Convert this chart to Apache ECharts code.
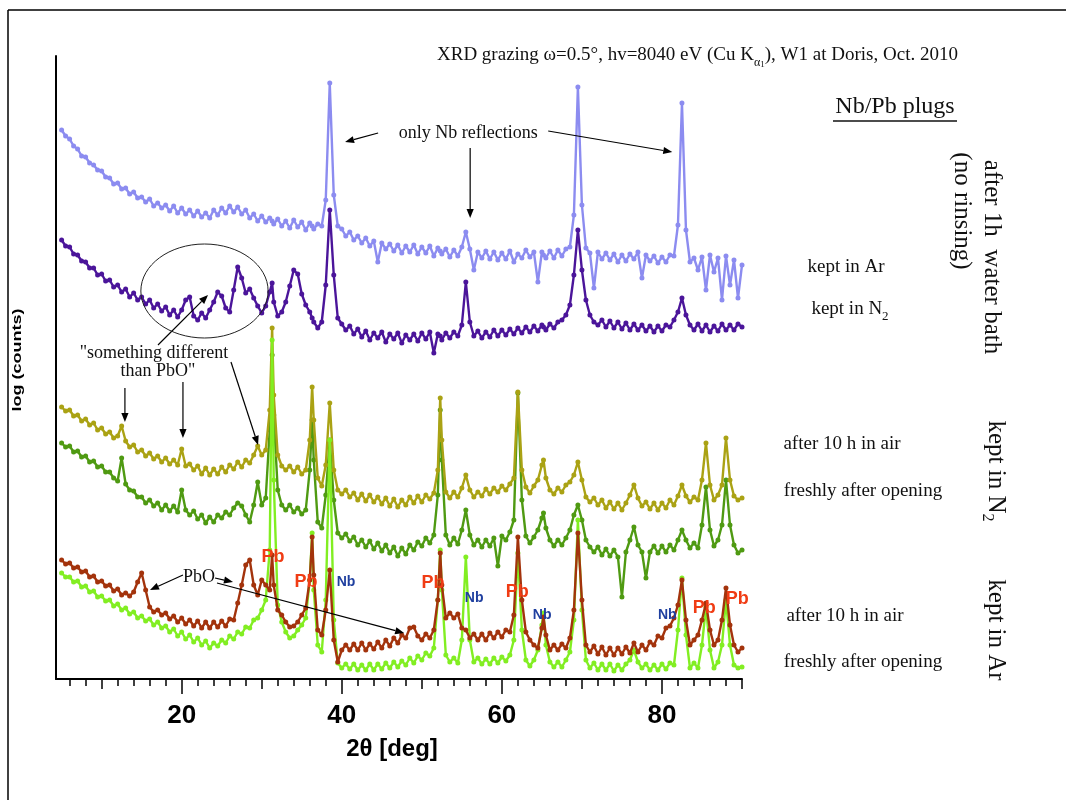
<!DOCTYPE html>
<html><head><meta charset="utf-8">
<script src="https://cdn.jsdelivr.net/npm/echarts@6/dist/echarts.min.js"></script>
<style>html,body{margin:0;padding:0;background:#fff}#c{width:1074px;height:810px}</style>
</head><body><div id="c"></div><script>
// 2-theta sampling grid (deg)
const theta = [
 5,5.5,6,6.5,7,7.5,8,8.5,9,9.5,
 10,10.5,11,11.5,12,12.5,13,13.5,14,14.5,
 15,15.5,16,16.5,17,17.5,18,18.5,19,19.5,
 20,20.5,21,21.5,22,22.5,23,23.5,24,24.5,
 25,25.5,26,26.5,27,27.5,28,28.5,29,29.5,
 30,30.5,31,31.5,32,32.5,33,33.5,34,34.5,
 35,35.5,36,36.5,37,37.5,38,38.5,39,39.5,
 40,40.5,41,41.5,42,42.5,43,43.5,44,44.5,
 45,45.5,46,46.5,47,47.5,48,48.5,49,49.5,
 50,50.5,51,51.5,52,52.5,53,53.5,54,54.5,
 55,55.5,56,56.5,57,57.5,58,58.5,59,59.5,
 60,60.5,61,61.5,62,62.5,63,63.5,64,64.5,
 65,65.5,66,66.5,67,67.5,68,68.5,69,69.5,
 70,70.5,71,71.5,72,72.5,73,73.5,74,74.5,
 75,75.5,76,76.5,77,77.5,78,78.5,79,79.5,
 80,80.5,81,81.5,82,82.5,83,83.5,84,84.5,
 85,85.5,86,86.5,87,87.5,88,88.5,89,89.5,
 90];
// extra points at Pb reflection maxima
const thetaExtra = [31.3, 36.3, 52.3, 65.2];

// log(counts), offset curves (arbitrary units)
const waterAr = [
 549,543,540,533,530,523,522,516,514,509,
 508,502,501,495,496,490,491,485,487,481,
 482,477,480,473,476,471,474,468,473,466,
 471,465,469,463,468,462,466,461,469,464,
 471,466,473,467,472,465,469,461,465,458,
 463,457,461,455,460,453,458,451,459,452,
 457,449,456,450,455,453,479,596,484,453,
 450,443,447,439,443,436,441,433,438,417,
 436,430,435,428,434,426,433,427,434,425,
 432,426,433,423,431,425,430,422,429,423,
 432,447,430,409,427,421,428,420,427,419,
 426,420,428,417,425,421,429,422,427,397,
 427,421,428,421,429,423,430,432,464,592,
 474,431,426,391,427,420,426,419,425,417,
 424,418,425,420,427,401,424,418,423,416,
 422,417,424,423,454,576,449,417,421,409,
 422,389,424,407,421,379,423,394,419,381,
 414];
const waterArExtra = [458,453,428,424];

const waterN2 = [
 439,433,432,425,424,418,417,411,411,404,
 405,398,399,392,394,387,390,382,386,379,
 382,375,379,371,375,368,372,364,369,362,
 369,379,382,363,359,366,361,369,377,387,
 383,371,367,389,412,401,386,390,381,373,
 366,373,387,377,363,367,377,393,409,405,
 385,374,367,357,351,357,394,469,404,361,
 355,349,353,345,350,342,348,339,346,341,
 347,337,345,340,346,336,344,339,345,338,
 346,340,347,326,345,339,346,341,347,343,
 354,397,357,343,348,341,347,342,349,343,
 349,344,350,345,351,346,352,347,353,348,
 354,349,355,351,357,359,364,374,404,449,
 409,379,364,357,354,359,352,358,351,357,
 350,356,349,355,349,354,348,353,347,353,
 348,354,352,359,367,381,364,354,349,355,
 348,354,347,353,348,355,349,354,349,355,
 352];
const waterN2Extra = [396,361,343,352];

const n2Air = [
 272,268,269,263,264,258,260,254,256,249,
 251,245,247,241,243,253,238,232,234,227,
 229,223,226,220,223,217,221,215,219,214,
 230,213,215,209,213,205,211,204,210,205,
 212,207,214,210,217,212,219,216,224,233,
 224,229,269,284,224,213,209,213,207,212,
 205,209,239,259,201,193,214,276,209,189,
 185,189,182,186,179,185,178,184,177,182,
 175,181,173,180,172,179,174,182,176,183,
 177,184,180,186,209,239,187,181,187,182,
 191,204,189,182,187,183,190,185,191,187,
 193,189,195,201,287,209,192,186,193,199,
 214,201,189,185,191,187,194,197,204,217,
 199,182,177,181,174,179,171,177,170,176,
 169,176,184,194,181,173,177,170,176,169,
 176,171,179,174,183,194,183,177,182,179,
 199,236,194,179,184,194,241,199,183,179,
 181];
const n2AirExtra = [351,292,281,219];

const n2Fresh = [
 236,232,233,227,228,222,223,217,218,212,
 213,207,207,201,198,221,195,189,188,182,
 182,176,179,173,176,169,174,168,173,167,
 189,169,164,168,160,164,156,162,157,164,
 161,167,164,171,176,173,164,157,174,197,
 174,181,249,264,189,174,169,174,167,171,
 165,169,209,219,157,151,184,239,179,146,
 141,145,138,142,134,139,132,138,130,136,
 128,134,126,132,123,131,125,134,129,137,
 133,141,136,144,184,219,144,134,141,135,
 149,169,144,134,139,132,139,133,141,113,
 143,139,147,159,286,179,143,136,142,149,
 161,151,139,133,139,134,141,149,164,174,
 159,139,132,127,132,124,130,123,129,122,
 82,127,139,152,134,127,101,127,133,126,
 133,127,134,129,139,149,139,131,136,131,
 154,192,149,133,139,154,199,154,134,126,
 129];
const n2FreshExtra = [324,259,269,166];

const arAir = [
 119,115,116,111,112,107,108,102,103,97,
 98,93,94,88,90,84,86,83,87,97,
 106,89,72,67,69,64,66,60,63,57,
 61,55,59,53,58,51,57,51,57,52,
 58,53,60,59,76,94,114,119,94,84,
 99,94,89,94,69,64,57,52,53,57,
 64,71,99,104,49,44,69,109,39,17,
 29,34,29,35,29,36,29,35,30,37,
 31,39,33,41,36,44,41,51,52,43,
 39,45,41,49,79,94,61,66,61,65,
 51,49,41,45,39,45,39,46,41,47,
 42,49,47,64,142,79,47,39,34,31,
 51,44,29,34,29,35,31,41,69,146,
 79,34,27,33,25,32,24,31,24,31,
 25,32,26,36,27,34,29,37,34,43,
 41,51,53,61,74,99,59,34,39,44,
 59,76,49,34,39,59,91,54,34,27,
 31];
const arAirExtra = [124,142,126,62];

const arFresh = [
 106,102,102,97,98,92,93,87,88,82,
 83,78,79,73,75,69,71,65,67,61,
 63,58,60,54,57,51,53,47,50,43,
 47,40,44,37,41,34,38,31,36,33,
 39,36,43,40,47,45,52,51,59,61,
 69,79,129,199,74,57,47,41,43,49,
 54,61,99,89,34,27,79,239,59,16,
 11,15,10,15,9,14,9,15,9,15,
 10,16,11,17,12,18,14,21,16,23,
 19,26,23,31,79,89,24,17,21,16,
 39,122,39,17,21,15,20,15,21,16,
 22,18,24,39,126,49,19,13,19,29,
 54,34,17,12,17,12,19,27,59,159,
 69,19,11,16,9,15,9,15,8,14,
 9,15,19,29,17,11,15,9,14,9,
 15,10,16,14,49,101,44,11,16,11,
 34,72,29,11,17,34,79,34,14,11,
 12];
const arFreshExtra = [339,146,129,66];

// axis ticks and labels
const minorTicks = [6,8,10,12,14,16,18,20,22,24,26,28,30,32,34,36,38,40,42,44,46,48,50,52,54,56,58,60,62,64,66,68,70,72,74,76,78,80,82,84,86,88,90];
const midTicks = [10,30,50,70,90];
const majorTicks = [20,40,60,80];

// annotation anchors in data units [2theta, log counts]
const arrowsDeg = [
 [[17.04,334],[23.29,384]],
 [[12.91,291],[12.91,257]],
 [[20.16,297],[20.16,241]],
 [[26.16,317],[29.54,234]],
 [[44.54,546],[40.41,537]],
 [[56.04,531],[56.04,461]],
 [[65.79,548],[81.29,527]],
 [[20.16,104],[16.04,89]],
 [[24.16,101],[26.41,97]],
 [[24.41,96],[47.79,46]]
];
const ellipseBox = [[14.9,341],[30.8,435]];
const noteTexts = [
 ['"something different',[16.54,326]],
 ['than PbO"',[17.04,308]],
 ['only Nb reflections',[55.79,546]],
 ['PbO',[22.16,102]]
];
const pbLabels = [[31.41,122],[35.54,97],[51.41,96],[61.91,87],[85.29,71],[89.41,80]];
const nbLabels = [[40.54,97],[56.54,81],[65.04,64],[80.66,64]];

function build(vals, extra){
  const pts = theta.map((t,i)=>[t, vals[i]]);
  thetaExtra.forEach((t,i)=>pts.push([t, extra[i]]));
  pts.sort((a,b)=>a[0]-b[0]);
  return pts;
}
const SERIF = "'Liberation Serif','Times New Roman',serif";
const SANS = "'Liberation Sans',Arial,sans-serif";

function mk(name, vals, extra, color, z){
  return {type:'line', name, data: build(vals, extra), symbol:'circle', symbolSize:5,
    showSymbol:true, lineStyle:{color, width:2.4}, itemStyle:{color}, z, silent:true, animation:false};
}

const chart = echarts.init(document.getElementById('c'), null, {renderer:'canvas'});
const baseX = {type:'value', min:4.3, max:90, position:'bottom', splitLine:{show:false}};
chart.setOption({
  animation:false,
  backgroundColor:'#fff',
  grid:{left:56, right:332, top:56, bottom:131, containLabel:false},
  xAxis:[
    Object.assign({}, baseX, {
      axisLine:{show:true, lineStyle:{color:'#000', width:2}},
      axisTick:{show:true, customValues:minorTicks, length:7, lineStyle:{color:'#000', width:1.5}},
      axisLabel:{show:true, customValues:majorTicks, margin:24, fontSize:26, fontWeight:'bold', fontFamily:SANS, color:'#000'},
      name:'2θ [deg]', nameLocation:'middle', nameGap:58,
      nameTextStyle:{fontSize:24, fontWeight:'bold', fontFamily:SANS, color:'#000', padding:[0,14,0,0]}
    }),
    Object.assign({}, baseX, {
      axisLine:{show:false}, axisLabel:{show:false},
      axisTick:{show:true, customValues:midTicks, length:10, lineStyle:{color:'#000', width:1.5}}
    }),
    Object.assign({}, baseX, {
      axisLine:{show:false}, axisLabel:{show:false},
      axisTick:{show:true, customValues:majorTicks, length:15, lineStyle:{color:'#000', width:1.5}}
    })
  ],
  yAxis:{type:'value', min:0, max:623, axisLine:{show:true, lineStyle:{color:'#000', width:2}},
    axisTick:{show:false}, axisLabel:{show:false}, splitLine:{show:false}},
  series:[
    mk('after 1h water bath, kept in Ar', waterAr, waterArExtra, '#8c8cf0', 2),
    mk('after 1h water bath, kept in N2', waterN2, waterN2Extra, '#4b159a', 3),
    mk('kept in N2, freshly after opening', n2Fresh, n2FreshExtra, '#4f9a12', 4),
    mk('kept in N2, after 10 h in air', n2Air, n2AirExtra, '#aaa214', 5),
    mk('kept in Ar, freshly after opening', arFresh, arFreshExtra, '#82ee22', 6),
    mk('kept in Ar, after 10 h in air', arAir, arAirExtra, '#a3330c', 7)
  ]
});

const toPx = p => chart.convertToPixel({xAxisIndex:0, yAxisIndex:0}, p);
const g = [];
// frame
g.push({type:'line', shape:{x1:8,y1:10,x2:1066,y2:10}, style:{stroke:'#000', lineWidth:1.5}, z:100});
g.push({type:'line', shape:{x1:8,y1:10,x2:8,y2:800}, style:{stroke:'#000', lineWidth:1.5}, z:100});

function arrow(from, to){
  const a = toPx(from), b = toPx(to);
  const dx=b[0]-a[0], dy=b[1]-a[1], L=Math.hypot(dx,dy), ux=dx/L, uy=dy/L;
  const hl=9, hw=3.6, bx=b[0]-ux*hl, by=b[1]-uy*hl;
  g.push({type:'line', shape:{x1:a[0],y1:a[1],x2:bx,y2:by}, style:{stroke:'#000', lineWidth:1.2}, z:100});
  g.push({type:'polygon', shape:{points:[[b[0],b[1]],[bx-uy*hw,by+ux*hw],[bx+uy*hw,by-ux*hw]]}, style:{fill:'#000'}, z:100});
}
arrowsDeg.forEach(a=>arrow(a[0], a[1]));
{
  const p1 = toPx(ellipseBox[0]), p2 = toPx(ellipseBox[1]);
  g.push({type:'ellipse', shape:{cx:(p1[0]+p2[0])/2, cy:(p1[1]+p2[1])/2, rx:Math.abs(p2[0]-p1[0])/2, ry:Math.abs(p2[1]-p1[1])/2},
    style:{fill:'transparent', stroke:'#222', lineWidth:1}, z:100});
}
noteTexts.forEach(([t,p])=>{
  const q = toPx(p);
  g.push({type:'text', x:q[0], y:q[1], z:101, style:{text:t, fontSize:18, fontFamily:SERIF, fill:'#111', align:'center', verticalAlign:'middle'}});
});
pbLabels.forEach(p=>{
  const q = toPx(p);
  g.push({type:'text', x:q[0], y:q[1], z:101, style:{text:'Pb', fontSize:18, fontWeight:'bold', fontFamily:SANS, fill:'#f03c14', align:'center', verticalAlign:'middle'}});
});
nbLabels.forEach(p=>{
  const q = toPx(p);
  g.push({type:'text', x:q[0], y:q[1], z:101, style:{text:'Nb', fontSize:14, fontWeight:'bold', fontFamily:SANS, fill:'#1f3f9f', align:'center', verticalAlign:'middle'}});
});
// title
g.push({type:'text', x:437, y:55, z:101, style:{
  text:'{n|XRD grazing ω=0.5°, hv=8040 eV (Cu K}{s|α}{ss|1}{n|), W1 at Doris, Oct. 2010}',
  align:'left', verticalAlign:'middle',
  rich:{n:{fontSize:19, fontFamily:SERIF, fill:'#111', lineHeight:28},
        s:{fontSize:12, fontFamily:SERIF, fill:'#111', lineHeight:18, verticalAlign:'bottom'},
        ss:{fontSize:9, fontFamily:SERIF, fill:'#111', lineHeight:10, verticalAlign:'bottom'}}}});
// Nb/Pb plugs
g.push({type:'text', x:895, y:107, z:101, style:{text:'Nb/Pb plugs', fontSize:24, fontFamily:SERIF, fill:'#111', align:'center', verticalAlign:'middle'}});
g.push({type:'line', shape:{x1:833,y1:121,x2:957,y2:121}, style:{stroke:'#111', lineWidth:1.3}, z:101});
// right horizontal labels
const rightLbl = [
  ['{n|kept in Ar}', 846, 267],
  ['{n|kept in N}{s|2}', 850, 309],
  ['{n|after 10 h in air}', 842, 444],
  ['{n|freshly after opening}', 863, 491],
  ['{n|after 10 h in air}', 845, 616],
  ['{n|freshly after opening}', 863, 662]
];
const richH = {n:{fontSize:19, fontFamily:SERIF, fill:'#111', lineHeight:28},
               s:{fontSize:13, fontFamily:SERIF, fill:'#111', lineHeight:20, verticalAlign:'bottom'}};
rightLbl.forEach(([t,x,y])=>g.push({type:'text', x, y, z:101, style:{text:t, align:'center', verticalAlign:'middle', rich:richH}}));
// right vertical labels
const richV = {n:{fontSize:25, fontFamily:SERIF, fill:'#111', lineHeight:34},
               s:{fontSize:16, fontFamily:SERIF, fill:'#111', lineHeight:24, verticalAlign:'bottom'}};
const vertLbl = [
  ['{n|after 1h  water bath}', 992, 257],
  ['{n|(no rinsing)}', 962, 211],
  ['{n|kept in N}{s|2}', 996, 471],
  ['{n|kept in Ar}', 996, 630]
];
vertLbl.forEach(([t,x,y])=>g.push({type:'text', x, y, rotation:-Math.PI/2, z:101, style:{text:t, align:'center', verticalAlign:'middle', rich:richV}}));
// y axis title
g.push({type:'text', x:18, y:360, rotation:Math.PI/2, scaleX:1.5, z:101, style:{text:'log (counts)', fontSize:12, fontWeight:'bold', fontFamily:SANS, fill:'#000', align:'center', verticalAlign:'middle'}});

chart.setOption({graphic:{elements:g}});
</script></body></html>
